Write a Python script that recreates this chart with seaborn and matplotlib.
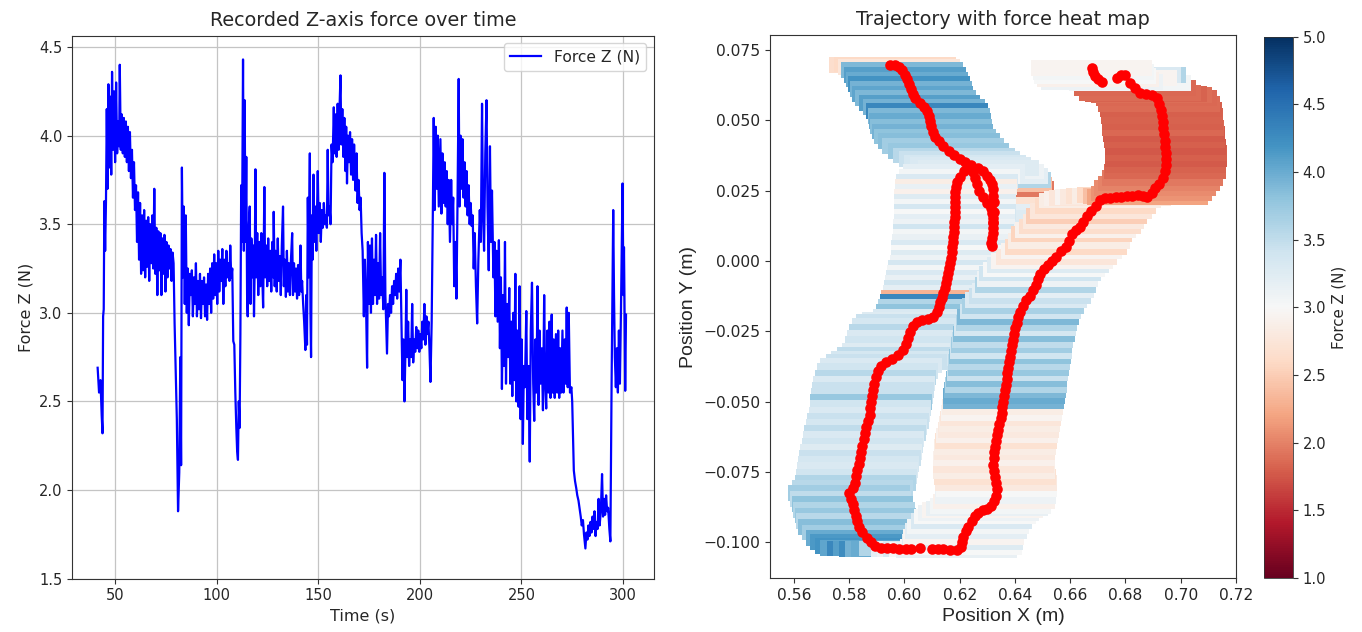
import numpy as np
import pandas as pd
import matplotlib
matplotlib.use("Agg")
import matplotlib.pyplot as plt
import seaborn as sns
from matplotlib.colors import Normalize
from matplotlib import cm

# ---------------- force time series ----------------
t_1 = [41.3,42.0,42.7,43.3,43.7,44.0,44.3,44.6,45.0,45.4,45.8,46.2,46.6,47.0,47.5,48.0,48.4,48.9,49.4,49.9,
       50.4,50.9,51.4,51.9,52.2,52.7,53.2,53.7,54.2,54.7,55.2,55.7,56.2,56.7,57.2,57.7,58.2,58.7,59.2,59.7,
       60.2,60.7,61.2,61.7,62.2,62.7,63.2,63.7,64.2,64.7,65.2,65.7,66.2,66.7,67.2,67.7,68.2,68.7,69.2,69.7,
       70.2,70.7,71.2,71.7,72.2,72.7,73.2,73.7,74.2,74.7,75.2,75.7,76.2,76.7,77.2,77.7,78.2,78.7,79.2,79.7]
f_1 = [2.69,2.55,2.62,2.42,2.32,2.98,3.02,3.63,3.35,3.62,4.15,3.70,4.29,3.82,4.22,3.78,4.36,3.92,4.25,3.85,
       4.30,3.90,4.08,3.94,4.40,3.92,4.12,3.90,4.10,3.88,4.08,3.85,4.05,3.80,4.02,3.76,3.92,3.65,3.85,3.58,
       3.72,3.40,3.68,3.30,3.62,3.22,3.55,3.24,3.58,3.20,3.52,3.26,3.54,3.18,3.50,3.28,3.55,3.25,3.70,3.22,
       3.48,3.10,3.46,3.24,3.45,3.10,3.42,3.22,3.44,3.12,3.40,3.20,3.38,3.25,3.36,3.18,3.34,3.28,2.94,2.70]
t_2 = [80.3,80.9,81.5,82.0,82.4,82.8,83.3,83.7,84.2,84.7,85.2,85.7,86.2,86.7,87.2,87.7,88.2,88.7,89.2,89.7,
       90.2,90.7,91.2,91.7,92.2,92.7,93.2,93.7,94.2,94.7,95.2,95.7,96.2,96.7,97.2,97.7,98.2,98.7,99.2,99.7,
       100.2,100.7,101.2,101.7,102.2,102.7,103.2,103.7,104.2,104.7,105.2,105.7,106.2,106.6,107.1,107.6,108.1,108.6,109.1,109.6,
       110.0,110.4,110.8,111.2,111.6,112.0,112.4]
f_2 = [2.40,1.88,2.10,2.75,2.14,3.82,3.20,3.60,3.05,3.55,3.00,3.25,2.93,3.22,3.10,3.24,2.98,3.20,3.05,3.28,
       2.98,3.18,3.02,3.22,2.97,3.18,3.05,3.20,2.98,3.16,2.96,3.22,3.05,3.25,3.00,3.28,3.08,3.33,3.10,3.28,
       3.05,3.35,3.12,3.30,3.18,3.36,3.05,3.30,3.15,3.35,3.20,3.28,3.18,3.38,3.20,3.25,2.84,2.82,2.55,2.35,
       2.22,2.17,2.50,2.35,2.88,3.72,3.40]
t_3 = [112.9,113.3,113.7,114.1,114.5,114.9,115.2,115.6,116.2,116.6,117.0,117.5,118.0,118.3,118.7,119.0,119.4,119.9,120.4,120.9,
       121.4,121.9,122.4,122.8,123.4,123.8,124.3,124.8,125.3,125.8,126.3,126.8,127.3,127.8,128.0,128.5,129.0,129.5,130.0,130.5,
       131.0,131.5,132.0,132.6,133.0,133.5,134.0,134.5,135.0,135.5,136.0,136.5,137.1,137.5,138.0,138.5,139.0,139.5,140.0,140.5,
       141.2,141.6,142.0,142.5,143.0,143.6,144.0,144.4,144.8,145.2,145.8,146.1,146.4,146.8,147.2,147.6,148.0,148.5,149.0,149.7]
f_3 = [4.43,3.35,4.20,3.40,3.88,3.10,2.98,3.45,3.60,3.05,3.42,3.20,3.38,2.98,3.30,3.81,3.20,3.45,3.10,3.40,
       3.15,3.45,3.20,3.03,3.71,3.20,3.38,3.15,3.42,3.18,3.35,3.12,3.40,3.20,3.57,3.15,3.35,3.12,3.42,3.18,
       3.32,3.10,3.38,3.60,3.15,3.30,3.09,3.35,3.12,3.28,3.10,3.30,3.45,3.10,3.28,3.12,3.25,3.08,3.27,3.10,
       3.38,3.12,3.18,3.05,2.95,2.79,3.10,2.82,3.65,3.20,3.90,3.00,2.75,3.55,3.30,3.78,3.40,3.60,3.35,3.80]
t_4 = [150.2,150.7,151.2,151.7,152.2,152.7,153.2,153.7,154.2,154.6,155.0,155.5,156.0,156.5,157.0,157.6,158.0,158.5,159.0,159.5,
       160.0,160.4,160.9,161.3,161.8,162.3,162.8,163.3,163.7,164.1,164.6,165.1,165.6,166.1,166.6,167.1,167.6,168.3,168.8,169.3,
       169.8,170.3,170.8,171.3,171.8,172.4,172.9,173.4,174.0,174.4,174.9,175.4,175.9,176.4,176.9,177.4,177.9,178.4,178.9,179.4,
       179.9,180.4,180.9,181.4,182.0,182.5,183.0,183.8,184.3,184.8,185.3,185.8,186.3,186.8,187.3,187.8,188.3,188.8,189.3,189.8,
       190.4,190.9,191.4,191.9,192.4,192.9,193.3,193.7,194.2,194.7,195.2,195.7,196.2,196.7,197.2,197.7,198.2,198.7,199.2,199.7,
       200.2,200.7,201.2,201.7,202.2,202.7,203.2,203.7,204.2,204.7,205.2,205.8]
f_4 = [3.45,3.62,3.40,3.58,3.48,3.62,3.50,3.55,3.48,3.92,3.55,3.60,3.50,3.95,3.85,4.16,3.90,4.12,3.88,4.18,
       3.92,4.15,4.34,3.95,4.15,3.88,4.10,3.80,4.05,3.73,4.00,3.85,4.02,3.78,3.98,3.75,3.95,3.69,3.90,3.62,
       3.75,3.58,3.65,3.45,3.35,2.98,3.30,3.10,2.69,3.40,3.05,3.38,3.00,3.42,3.05,3.30,3.10,3.44,3.05,3.28,
       3.08,3.45,3.10,3.20,3.02,3.79,3.10,2.77,3.05,2.98,3.10,3.00,3.15,3.05,3.18,3.10,3.22,3.08,3.25,3.12,
       3.30,2.95,2.62,2.85,2.50,2.80,3.13,2.75,2.95,2.70,2.85,2.75,3.05,2.72,2.85,2.78,2.92,2.80,2.90,2.78,
       2.88,2.80,2.95,2.85,3.05,2.82,2.98,2.88,2.95,2.80,2.61,2.95]
t_5 = [206.4,206.8,207.3,207.8,208.3,208.8,209.3,210.1,210.6,211.1,211.6,212.2,212.7,213.2,213.7,214.2,214.8,215.4,215.9,216.4,
       216.9,217.5,218.0,218.5,219.1,219.5,220.0,220.5,221.0,221.5,222.0,222.5,223.0,223.5,224.0,224.5,225.0,225.5,226.0,226.5,
       227.0,227.6,228.2,228.8,229.5,230.0,230.6,231.1,231.6,232.2,232.8,233.3,233.9,234.5,235.0,235.5,236.2,236.7,237.2,237.7,
       238.3,238.9,239.4,239.9,240.4,240.9,241.4,241.9,242.4,242.9,243.4,244.0,244.5,245.0,245.5,246.0,246.5,247.0,247.5,248.0,
       248.6,249.1,249.6,250.1,250.7,251.2,251.7,252.4,252.9,253.5,254.1,254.6,255.2,255.8,256.3,256.9,257.4,257.9,258.4,258.9,
       259.4,260.0,260.6,261.2,261.7,262.2,262.8,263.3,263.8,264.3,264.9,265.4,265.9,266.4,267.0,267.6,268.1,268.6,269.1,269.6,
       270.2,270.7,271.3,271.8,272.3,272.8,273.3,273.9,274.6,275.0]
f_5 = [3.60,4.10,3.58,4.05,3.70,4.00,3.60,3.98,3.56,3.90,3.62,3.85,3.60,3.80,3.50,3.75,3.40,3.75,3.50,3.65,
       3.15,3.40,3.08,3.60,4.32,3.60,4.00,3.70,3.98,3.65,3.85,3.60,3.80,3.55,3.72,3.50,3.62,3.49,3.55,3.25,
       3.45,3.15,2.94,3.30,3.58,3.40,4.18,3.55,3.35,3.90,4.20,3.60,3.24,3.94,3.40,3.69,3.20,3.40,2.98,3.35,
       2.95,3.41,2.80,3.20,2.57,3.10,2.70,3.40,2.60,3.05,2.75,3.14,2.60,2.95,2.53,3.00,2.62,3.22,2.50,2.90,
       2.47,3.15,2.40,2.85,2.26,2.70,2.58,3.01,2.40,2.70,2.16,2.90,3.17,2.60,2.39,2.85,2.55,3.15,2.48,2.90,
       2.60,2.80,2.45,3.10,2.60,2.46,2.90,2.55,2.95,2.52,2.99,2.55,2.85,2.52,2.88,2.55,2.90,2.52,2.80,2.55,
       2.90,2.55,2.85,2.60,3.03,2.58,3.00,2.55,2.58,2.50]
t_6 = [275.8,276.4,277.0,277.5,278.1,278.6,279.2,279.7,280.3,280.8,281.5,282.0,282.5,283.0,283.5,284.0,284.5,285.0,285.5,286.0,
       286.5,287.0,287.5,288.0,288.5,289.1,289.7,290.2,290.7,291.2,291.7,292.2,292.7,293.3,293.8,294.4,295.2,295.6,296.0,296.5,
       297.0,297.5,298.0,298.5,299.0,299.5,299.8,300.2,300.5,300.8,301.1,301.5]
f_6 = [2.11,2.05,2.01,1.97,1.94,1.90,1.85,1.80,1.83,1.75,1.67,1.76,1.72,1.80,1.74,1.82,1.76,1.85,1.78,1.88,
       1.74,1.82,1.78,1.95,1.80,1.88,2.09,1.85,1.95,1.86,1.97,1.88,1.90,1.78,1.71,2.60,3.58,3.10,2.75,2.58,
       2.80,2.55,2.90,2.60,3.00,3.45,3.73,3.10,3.37,3.00,2.56,2.99]

# ---------------- trajectory (in time order) ----------------
# A: top-left descent
xa = [0.5948,0.5965,0.5980,0.5992,0.6002,0.6010,0.6016,0.6024,0.6030,0.6040,0.6055,0.6070,0.6082,0.6088,0.6092,0.6096,0.6102,0.6110,0.6125,0.6140,0.6160,0.6180,0.6200,0.6220,0.6240]
ya = [0.0696,0.0698,0.0690,0.0678,0.0662,0.0645,0.0628,0.0610,0.0594,0.0578,0.0562,0.0548,0.0532,0.0515,0.0497,0.0478,0.0460,0.0442,0.0425,0.0408,0.0390,0.0375,0.0362,0.0350,0.0340]
fa = [2.65,2.60,2.75,3.90,4.10,4.00,4.20,3.95,4.05,3.90,4.10,3.95,4.30,3.90,4.00,3.85,3.95,3.80,3.85,3.70,3.75,3.55,3.45,3.35,3.30]
# B: hook, inner way down
xb = [0.6248,0.6255,0.6262,0.6270,0.6285,0.6300]
yb = [0.0315,0.0295,0.0272,0.0250,0.0228,0.0205]
fb = [3.40,3.25,3.50,3.30,3.45,3.20]
# C: hook, outer way down
xc = [0.6315,0.6318,0.6320,0.6321,0.6320,0.6319,0.6317,0.6315,0.6316]
yc = [0.0188,0.0170,0.0152,0.0134,0.0116,0.0098,0.0080,0.0064,0.0052]
fc = [3.35,3.20,3.50,3.25,3.40,3.15,3.30,3.20,3.35]
# D: hook, way back up
xd = [0.6322,0.6323,0.6323,0.6322,0.6320,0.6316,0.6310,0.6300,0.6285,0.6268]
yd = [0.0140,0.0175,0.0210,0.0232,0.0256,0.0272,0.0288,0.0302,0.0318,0.0330]
fd = [3.30,3.25,3.20,2.70,1.95,2.40,3.60,3.20,3.10,3.25]
# E: left branch down
xe = [0.6215,0.6200,0.6190,0.6186,0.6184,0.6183,0.6183,0.6183,0.6183,0.6182,0.6181,0.6180,0.6178,0.6177,0.6175,0.6173,0.6171,0.6170,0.6166,0.6162,0.6158,0.6154,0.6150,0.6146,0.6141,0.6136,0.6130]
ye = [0.0318,0.0300,0.0282,0.0264,0.0246,0.0228,0.0210,0.0192,0.0174,0.0156,0.0138,0.0120,0.0102,0.0084,0.0066,0.0048,0.0030,0.0012,-0.0006,-0.0024,-0.0042,-0.0060,-0.0078,-0.0096,-0.0114,-0.0130,-0.0146]
fe = [3.20,3.05,3.30,2.85,3.15,2.90,3.25,3.05,3.35,3.00,3.20,3.10,3.40,3.05,3.15,3.30,3.00,3.25,3.10,3.35,3.05,3.30,3.15,3.40,3.20,2.30,4.30]
# F: left side down
xf = [0.6124,0.6117,0.6105,0.6085,0.6065,0.6044,0.6030,0.6020,0.6012,0.6005,0.5995,0.5975,0.5955,0.5935,0.5915,0.5903,0.5896,0.5890,0.5886,0.5882,0.5879,0.5877,0.5874,0.5868,0.5862,0.5857,0.5852,0.5848,0.5843,0.5839,0.5834,0.5830,0.5826,0.5822]
yf = [-0.0164,-0.0182,-0.0200,-0.0208,-0.0210,-0.0216,-0.0232,-0.0252,-0.0274,-0.0296,-0.0318,-0.0335,-0.0348,-0.0358,-0.0372,-0.0392,-0.0414,-0.0436,-0.0458,-0.0480,-0.0502,-0.0524,-0.0546,-0.0568,-0.0590,-0.0612,-0.0634,-0.0656,-0.0678,-0.0700,-0.0722,-0.0744,-0.0766,-0.0788]
ff = [3.60,3.80,3.30,3.50,3.25,3.45,3.35,3.55,3.30,3.40,3.25,3.50,3.35,3.45,3.30,3.40,3.55,3.30,3.45,3.45,3.75,3.40,3.30,3.45,3.35,3.50,3.30,3.40,3.25,3.45,3.35,3.30,3.40,3.60]
# G: bottom-left corner
xg = [0.5812,0.5800,0.5805,0.5812,0.5818,0.5823,0.5828,0.5835,0.5848,0.5863,0.5878]
yg = [-0.0808,-0.0825,-0.0845,-0.0865,-0.0885,-0.0905,-0.0925,-0.0945,-0.0965,-0.0985,-0.1000]
fg = [3.55,3.70,3.50,3.80,3.60,3.75,3.55,3.85,3.70,4.00,4.15]
# H: bottom run
xh = [0.5895,0.5915,0.5938,0.5960,0.5982,0.6005,0.6025,0.6056,0.6099,0.6120,0.6141,0.6165,0.6189]
yh = [-0.1012,-0.1020,-0.1022,-0.1022,-0.1023,-0.1024,-0.1024,-0.1022,-0.1024,-0.1025,-0.1025,-0.1026,-0.1027]
fh = [4.20,4.05,4.30,4.10,4.25,3.95,4.00,3.60,3.20,3.10,3.30,3.00,3.15]
# I: bottom-right turn
xi = [0.6205,0.6210,0.6213,0.6222,0.6231,0.6243,0.6255,0.6268,0.6283,0.6298,0.6312,0.6325,0.6330,0.6334]
yi = [-0.1018,-0.1000,-0.0980,-0.0960,-0.0944,-0.0925,-0.0908,-0.0895,-0.0885,-0.0880,-0.0872,-0.0855,-0.0835,-0.0812]
fi = [3.00,3.25,2.95,3.20,3.05,3.30,3.00,3.10,2.95,3.15,3.05,2.90,3.10,3.00]
# J: right side up (lower part)
xj = [0.6332,0.6328,0.6325,0.6322,0.6324,0.6326,0.6328,0.6332,0.6336,0.6340,0.6344,0.6348,0.6352,0.6355]
yj = [-0.0790,-0.0768,-0.0746,-0.0724,-0.0702,-0.0680,-0.0660,-0.0640,-0.0620,-0.0600,-0.0580,-0.0560,-0.0540,-0.0520]
fj = [2.80,2.70,2.85,2.75,2.90,2.80,2.85,2.70,2.90,2.80,2.85,2.75,2.95,2.85]
# K: right side up (upper part)
xk = [0.6358,0.6361,0.6364,0.6367,0.6370,0.6373,0.6376,0.6379,0.6382,0.6385,0.6388,0.6392,0.6396,0.6400,0.6406,0.6412,0.6420,0.6430,0.6440]
yk = [-0.0500,-0.0480,-0.0460,-0.0440,-0.0420,-0.0400,-0.0380,-0.0360,-0.0340,-0.0320,-0.0300,-0.0280,-0.0260,-0.0240,-0.0220,-0.0200,-0.0180,-0.0160,-0.0140]
fk = [3.95,4.00,3.90,3.60,3.85,3.45,3.75,3.55,3.80,3.40,3.70,3.50,3.85,3.35,3.60,3.90,3.40,3.65,3.30]
# L: diagonal start
xl = [0.6454,0.6466,0.6475,0.6482,0.6490,0.6505,0.6520,0.6535]
yl = [-0.0125,-0.0105,-0.0085,-0.0065,-0.0045,-0.0030,-0.0015,0.0000]
fl = [3.45,3.20,3.60,3.10,3.40,3.00,3.25,2.95]
# M: diagonal
xm = [0.6550,0.6568,0.6585,0.6595,0.6605,0.6620,0.6635,0.6648,0.6660,0.6675,0.6692,0.6708]
ym = [0.0015,0.0035,0.0050,0.0070,0.0095,0.0110,0.0122,0.0140,0.0160,0.0178,0.0195,0.0215]
fm = [2.75,2.95,2.60,2.85,2.55,2.90,2.65,2.80,2.50,2.75,2.60,2.85]
# N: short horizontal run
xn = [0.6726,0.6744,0.6765,0.6785,0.6805,0.6825,0.6845,0.6865,0.6880]
yn = [0.0222,0.0224,0.0226,0.0228,0.0230,0.0232,0.0234,0.0230,0.0228]
fn = [2.90,2.75,2.95,2.80,2.70,2.85,2.60,2.40,2.20]
# O: right column up (low force)
xo = [0.6895,0.6908,0.6922,0.6935,0.6943,0.6946,0.6947,0.6947,0.6945,0.6942,0.6940,0.6937,0.6935,0.6932,0.6928,0.6922,0.6913,0.6895,0.6875,0.6853]
yo = [0.0240,0.0258,0.0275,0.0295,0.0318,0.0340,0.0362,0.0384,0.0406,0.0428,0.0450,0.0472,0.0494,0.0516,0.0538,0.0558,0.0578,0.0590,0.0594,0.0598]
fo = [2.10,2.05,2.00,1.95,1.85,1.82,1.78,1.80,1.75,1.80,1.78,1.85,1.80,1.82,1.80,1.86,1.85,1.88,1.82,1.86]
# P: end at the top
xp = [0.6835,0.6817,0.6798,0.6783,0.6768,0.6715,0.6700,0.6690,0.6684,0.6678]
yp = [0.0615,0.0632,0.0661,0.0660,0.0650,0.0637,0.0645,0.0658,0.0672,0.0686]
fp = [1.85,3.05,3.60,3.30,2.95,3.10,2.90,3.00,3.05,2.95]

# ---------------- assemble ----------------
time_s = np.concatenate([t_1, t_2, t_3, t_4, t_5, t_6])
force_z = np.concatenate([f_1, f_2, f_3, f_4, f_5, f_6])
assert len(time_s) == len(force_z), (len(time_s), len(force_z))

traj_x = np.concatenate([xa, xb, xc, xd, xe, xf, xg, xh, xi, xj, xk, xl, xm, xn, xo, xp])
traj_y = np.concatenate([ya, yb, yc, yd, ye, yf, yg, yh, yi, yj, yk, yl, ym, yn, yo, yp])
traj_f = np.concatenate([fa, fb, fc, fd, fe, ff, fg, fh, fi, fj, fk, fl, fm, fn, fo, fp])
assert len(traj_x) == len(traj_y) == len(traj_f), (len(traj_x), len(traj_y), len(traj_f))

TXT = "#262626"
plt.rcParams.update({
    "font.family": ["DejaVu Sans"],
    "text.color": TXT, "axes.labelcolor": TXT,
    "xtick.color": "#333333", "ytick.color": "#333333",
    "xtick.labelcolor": TXT, "ytick.labelcolor": TXT,
    "axes.edgecolor": "#333333",
    "xtick.major.size": 3.5, "ytick.major.size": 3.5,
    "xtick.major.width": 0.8, "ytick.major.width": 0.8,
    "xtick.direction": "out", "ytick.direction": "out",
})

fig = plt.figure(figsize=(13.62, 6.32), dpi=100)
ax1 = fig.add_axes([0.0529, 0.0845, 0.4273, 0.8593])
ax2 = fig.add_axes([0.5653, 0.0854, 0.3421, 0.8592])
cax = fig.add_axes([0.928, 0.0854, 0.0213, 0.8565])

# ---------------- left: force over time ----------------
df_force = pd.DataFrame({"Time (s)": time_s, "Force Z (N)": force_z})
sns.lineplot(data=df_force, x="Time (s)", y="Force Z (N)", ax=ax1, color="#0000ff",
             linewidth=1.6, label="Force Z (N)", estimator=None, sort=False)
ax1.set_title("Recorded Z-axis force over time", fontsize=13.8, pad=7)
ax1.set_xlabel("Time (s)", fontsize=11.5)
ax1.set_ylabel("Force Z (N)", fontsize=11.5)
ax1.set_xlim(28.7, 315.3)
ax1.set_ylim(1.5, 4.565)
ax1.set_xticks([50, 100, 150, 200, 250, 300])
ax1.set_yticks([1.5, 2.0, 2.5, 3.0, 3.5, 4.0, 4.5])
ax1.tick_params(labelsize=10.5, length=3.5, width=0.8)
ax1.grid(True, color="#c4c4c4", linewidth=0.9)
ax1.legend(loc="upper right", fontsize=11.2)

# ---------------- right: trajectory with force bands ----------------
norm = Normalize(vmin=1.0, vmax=5.0)
cmap = plt.get_cmap("RdBu")
band_w = 0.044
band_h = 0.0056
ax2.barh(traj_y, width=band_w, left=traj_x - band_w / 2, height=band_h,
         color=cmap(norm(traj_f)), linewidth=0, zorder=1)
sns.scatterplot(x=traj_x, y=traj_y, ax=ax2, color="red", s=58, linewidth=0,
                zorder=3, legend=False)
ax2.set_xlim(0.5513, 0.7200)
ax2.set_ylim(-0.1127, 0.0803)
ax2.set_xticks([0.56, 0.58, 0.60, 0.62, 0.64, 0.66, 0.68, 0.70, 0.72])
ax2.set_yticks([-0.100, -0.075, -0.050, -0.025, 0.000, 0.025, 0.050, 0.075])
ax2.tick_params(labelsize=11.2, length=3.5, width=0.8)
ax2.set_title("Trajectory with force heat map", fontsize=13.8, pad=7)
ax2.set_xlabel("Position X (m)", fontsize=14, family=["Liberation Sans", "DejaVu Sans"])
ax2.set_ylabel("Position Y (m)", fontsize=14, family=["Liberation Sans", "DejaVu Sans"])

sm = cm.ScalarMappable(norm=norm, cmap=cmap)
sm.set_array([])
cb = fig.colorbar(sm, cax=cax)
cb.set_ticks([1.0, 1.5, 2.0, 2.5, 3.0, 3.5, 4.0, 4.5, 5.0])
cb.ax.tick_params(labelsize=10.6, length=3.5, width=0.8)
cb.set_label("Force Z (N)", fontsize=10.8)
cb.outline.set_linewidth(0.6)

fig.savefig("out.png", dpi=100)
